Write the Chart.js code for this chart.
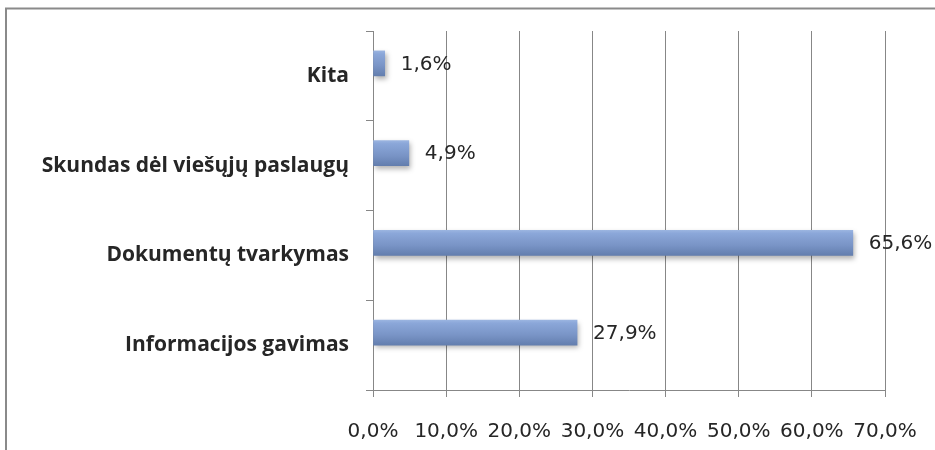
<!DOCTYPE html>
<html>
<head>
<meta charset="utf-8">
<script src="https://cdn.jsdelivr.net/npm/chart.js@4"></script>
<style>
  html, body { margin: 0; padding: 0; background: #ffffff; }
  #wrap { width: 935px; height: 450px; }
</style>
</head>
<body>
<div id="wrap"><canvas id="c" width="935" height="450"></canvas></div>
<script>
const categories = ['Kita', 'Skundas dėl viešųjų paslaugų', 'Dokumentų tvarkymas', 'Informacijos gavimas'];
const shares = [1.6, 4.9, 65.6, 27.9];
const depthPlaceholder = [null, null, null, null];
const tickLabels = ['0,0%', '10,0%', '20,0%', '30,0%', '40,0%', '50,0%', '60,0%', '70,0%'];

const BAR_T = 25;
const GRID = '#878787';
const TEXT = '#262626';

function fmt(v) { return v.toFixed(1).replace('.', ',') + '%'; }

const framePlugin = {
  id: 'frame',
  beforeDraw(chart) {
    const ctx = chart.ctx;
    ctx.save();
    ctx.strokeStyle = '#8a8a8a';
    ctx.lineWidth = 2;
    ctx.beginPath();
    ctx.moveTo(6, 450);
    ctx.lineTo(6, 8.5);
    ctx.lineTo(935, 8.5);
    ctx.stroke();
    ctx.restore();
  }
};

const shadowAndLabels = {
  id: 'shadowAndLabels',
  beforeDatasetsDraw(chart) {
    const ctx = chart.ctx;
    ctx.save();
    ctx.shadowColor = 'rgba(0,0,0,0.30)';
    ctx.shadowBlur = 5;
    ctx.shadowOffsetX = 2;
    ctx.shadowOffsetY = 3;
  },
  afterDatasetsDraw(chart) {
    const ctx = chart.ctx;
    ctx.restore();
    const meta = chart.getDatasetMeta(0);
    ctx.save();
    ctx.font = '20px "DejaVu Sans"';
    ctx.fillStyle = TEXT;
    ctx.textAlign = 'left';
    ctx.textBaseline = 'middle';
    meta.data.forEach((el, i) => {
      ctx.fillText(fmt(shares[i]), el.x + 16, el.y + 1);
    });
    ctx.restore();
  }
};

function barFill(context) {
  const chart = context.chart;
  const ys = chart.scales && chart.scales.y;
  if (!ys || context.dataIndex === undefined) return '#7e99c9';
  const base = ys.getPixelForValue(context.dataIndex);
  if (!isFinite(base)) return '#7e99c9';
  const top = base - BAR_T;
  const g = chart.ctx.createLinearGradient(0, top, 0, base);
  g.addColorStop(0, '#9ab4e0');
  g.addColorStop(0.12, '#8ba7d9');
  g.addColorStop(0.6, '#7994c6');
  g.addColorStop(1, '#637eae');
  return g;
}

new Chart(document.getElementById('c'), {
  type: 'bar',
  data: {
    labels: categories,
    datasets: [
      { data: shares, backgroundColor: barFill, borderWidth: 0, barThickness: BAR_T },
      { data: depthPlaceholder, backgroundColor: 'rgba(0,0,0,0)', borderWidth: 0, barThickness: BAR_T }
    ]
  },
  options: {
    indexAxis: 'y',
    responsive: false,
    animation: false,
    devicePixelRatio: 1,
    events: [],
    layout: { padding: { top: 31, right: 50, left: 0, bottom: 0 } },
    plugins: { legend: { display: false }, title: { display: false }, tooltip: { enabled: false } },
    scales: {
      x: {
        min: 0, max: 70,
        ticks: {
          stepSize: 10,
          color: TEXT,
          font: { family: '"DejaVu Sans"', size: 20 },
          padding: 23,
          maxRotation: 0,
          callback: (v, i) => tickLabels[i]
        },
        grid: { color: GRID, lineWidth: 1, tickLength: 7, drawTicks: true },
        border: { color: GRID, width: 1 },
        afterFit: (s) => { s.height = 60; s.paddingLeft = 0; s.paddingRight = 0; }
      },
      y: {
        ticks: {
          color: TEXT,
          font: { family: '"Open Sans"', size: 21, weight: 'bold' },
          padding: 17
        },
        grid: { drawOnChartArea: false, color: GRID, tickLength: 7, offset: true },
        border: { color: GRID, width: 1 },
        afterFit: (s) => { s.width = 373; s.paddingTop = 0; s.paddingBottom = 0; }
      }
    }
  },
  plugins: [framePlugin, shadowAndLabels]
});
</script>
</body>
</html>
